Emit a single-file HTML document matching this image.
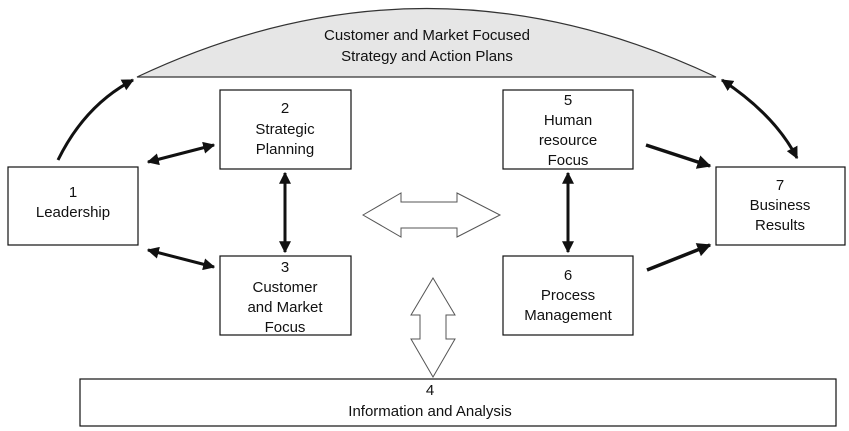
<!DOCTYPE html>
<html><head><style>body{margin:0;background:#fff}svg{display:block}text{font-family:"Liberation Sans",sans-serif;font-size:15px;fill:#111;text-anchor:middle}</style></head><body>
<svg width="849" height="431" viewBox="0 0 849 431">
<defs><marker id="a" viewBox="0 0 10 10" refX="9" refY="5" markerWidth="4" markerHeight="4" orient="auto-start-reverse"><path d="M0,0L10,5L0,10z" fill="#111"/></marker></defs>
<path d="M137,77 Q427,-60 716,77 Z" fill="#e6e6e6" stroke="#333" stroke-width="1.2"/>
<text x="427" y="40">Customer and Market Focused</text>
<text x="427" y="61">Strategy and Action Plans</text>
<g fill="#fff" stroke="#111" stroke-width="1.2">
<rect x="8" y="167" width="130" height="78"/>
<rect x="220" y="90" width="131" height="79"/>
<rect x="220" y="256" width="131" height="79"/>
<rect x="503" y="90" width="130" height="79"/>
<rect x="503" y="256" width="130" height="79"/>
<rect x="716" y="167" width="129" height="78"/>
<rect x="80" y="379" width="756" height="47"/>
</g>
<g stroke="#111" fill="none" stroke-width="3">
<path d="M58,160 Q85,105 133,80" marker-end="url(#a)"/>
<path d="M148,162 L214,145" marker-start="url(#a)" marker-end="url(#a)"/>
<path d="M148,250 L214,267" marker-start="url(#a)" marker-end="url(#a)"/>
<path d="M285,173 L285,252" marker-start="url(#a)" marker-end="url(#a)"/>
<path d="M568,173 L568,252" marker-start="url(#a)" marker-end="url(#a)"/>
<path d="M722,80 Q775,115 797,158" marker-start="url(#a)" marker-end="url(#a)"/>
<path d="M646,145 L710,166" stroke-width="3.5" marker-end="url(#a)"/>
<path d="M647,270 L710,245" stroke-width="3.5" marker-end="url(#a)"/>
</g>
<path d="M363,215 L401,193 L401,202 L457,202 L457,193 L500,215 L457,237 L457,228 L401,228 L401,237 Z" fill="#fff" stroke="#555" stroke-width="1"/>
<path d="M433,278 L455,315 L446,315 L446,339 L455,339 L433,377 L411,339 L420,339 L420,315 L411,315 Z" fill="#fff" stroke="#555" stroke-width="1"/>
<text x="73" y="197">1</text><text x="73" y="217">Leadership</text>
<text x="285" y="113">2</text><text x="285" y="134">Strategic</text><text x="285" y="154">Planning</text>
<text x="285" y="272">3</text><text x="285" y="292">Customer</text><text x="285" y="312">and Market</text><text x="285" y="332">Focus</text>
<text x="568" y="105">5</text><text x="568" y="125">Human</text><text x="568" y="145">resource</text><text x="568" y="165">Focus</text>
<text x="568" y="280">6</text><text x="568" y="300">Process</text><text x="568" y="320">Management</text>
<text x="780" y="190">7</text><text x="780" y="210">Business</text><text x="780" y="230">Results</text>
<text x="430" y="395">4</text><text x="430" y="416">Information and Analysis</text>
</svg>
</body></html>
